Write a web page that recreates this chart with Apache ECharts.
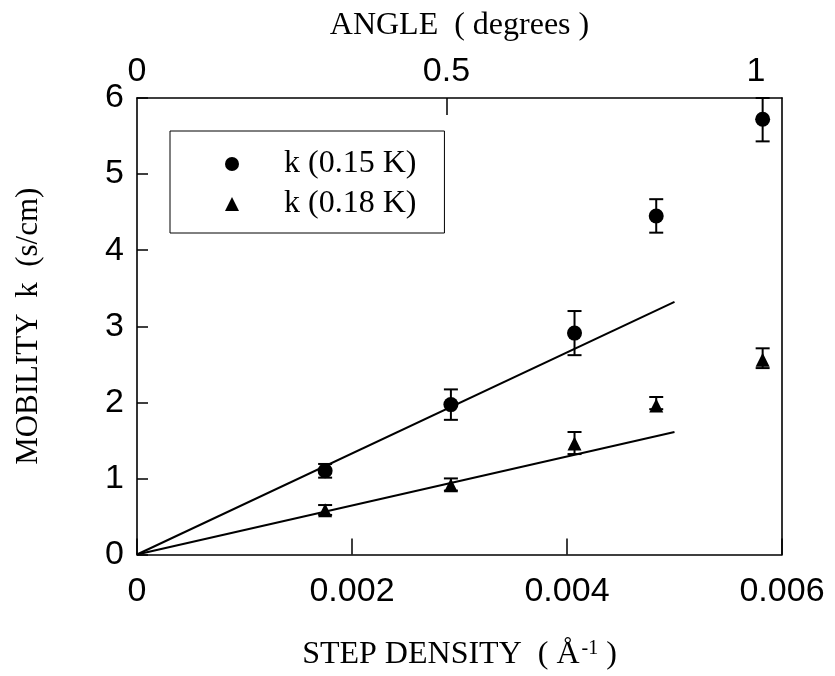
<!DOCTYPE html>
<html>
<head>
<meta charset="utf-8">
<script src="https://cdn.jsdelivr.net/npm/echarts@6/dist/echarts.min.js"></script>
<style>html,body{margin:0;padding:0;background:#fff;}#c{width:835px;height:676px;}</style>
</head>
<body>
<div id="c"></div>
<script>
// ---- data ----
const stepDensity = [0.00175, 0.00292, 0.00407, 0.00483, 0.00582];
const k015 = [1.10, 1.97, 2.91, 4.45, 5.72];
const k015Low = [1.01, 1.77, 2.62, 4.23, 5.43];
const k015High = [1.19, 2.17, 3.20, 4.67, 6.00];
const k018 = [0.58, 0.91, 1.46, 1.96, 2.56];
const k018Low = [0.52, 0.84, 1.32, 1.91, 2.45];
const k018High = [0.65, 1.00, 1.61, 2.07, 2.71];
const fitX = [0, 0.005];
const fit015 = [0, 3.32];
const fit018 = [0, 1.61];
const bottomTicks = [0, 0.002, 0.004, 0.006];
const leftTicks = [0, 1, 2, 3, 4, 5, 6];
const topTicks = [0, 0.5, 1];
const seriesNames = ['k (0.15 K)', 'k (0.18 K)'];

const SANS = "'Liberation Sans', Arial, sans-serif";
const SERIF = "'Liberation Serif', 'Times New Roman', serif";

function pts(xs, ys){ return xs.map((x,i)=>[x, ys[i]]); }
function errs(xs, lo, hi){ return xs.map((x,i)=>[x, lo[i], hi[i]]); }

function errorRender(params, api){
  const x = api.value(0), lo = api.value(1), hi = api.value(2);
  const a = api.coord([x, lo]), b = api.coord([x, hi]);
  const w = 7;
  const st = {stroke:'#000', lineWidth:2};
  return {type:'group', children:[
    {type:'line', shape:{x1:a[0], y1:a[1], x2:b[0], y2:b[1]}, style:st},
    {type:'line', shape:{x1:a[0]-w, y1:a[1], x2:a[0]+w, y2:a[1]}, style:st},
    {type:'line', shape:{x1:b[0]-w, y1:b[1], x2:b[0]+w, y2:b[1]}, style:st}
  ]};
}

const chart = echarts.init(document.getElementById('c'), null, {renderer:'canvas'});
chart.setOption({
  backgroundColor:'#fff',
  animation:false,
  grid:{left:137, right:53, top:98, bottom:118.5},
  legend:{
    data:[{name:seriesNames[0], icon:'circle'},{name:seriesNames[1], icon:'triangle'}],
    orient:'vertical', left:170, top:131,
    padding:[17, 28, 13, 55],
    itemGap:8, itemWidth:14, itemHeight:14,
    borderColor:'#000', borderWidth:1,
    textStyle:{fontFamily:SERIF, fontSize:32, color:'#000', padding:[0,0,0,40]}
  },
  xAxis:[{
    type:'value', position:'bottom', min:0, max:0.006, interval:0.002,
    name:'STEP DENSITY  ( Å{s|-1} )', nameLocation:'middle', nameGap:84,
    nameTextStyle:{fontFamily:SERIF, fontSize:32, color:'#000',
      rich:{s:{fontFamily:SERIF, fontSize:20, verticalAlign:'top', padding:[0,0,13,2], color:'#000'}}},
    axisLine:{onZero:false, lineStyle:{color:'#000', width:1.6}},
    axisTick:{inside:true, length:16, lineStyle:{color:'#000', width:1.5}},
    axisLabel:{fontFamily:SANS, fontSize:34, color:'#000', margin:20,
      formatter:v=>{const t=bottomTicks.find(b=>Math.abs(b-v)<1e-9); return t===undefined?'':String(t);}},
    splitLine:{show:false}
  },{
    type:'value', position:'top', min:0, max:1.042,
    name:'ANGLE  ( degrees )', nameLocation:'middle', nameGap:56,
    nameTextStyle:{fontFamily:SERIF, fontSize:32, color:'#000'},
    axisLine:{onZero:false, lineStyle:{color:'#000', width:1.6}},
    axisTick:{inside:true, length:17, customValues:[0.5], lineStyle:{color:'#000', width:1.5}},
    axisLabel:{fontFamily:SANS, fontSize:34, color:'#000', margin:9, customValues:topTicks,
      formatter:v=>String(v)},
    splitLine:{show:false}
  }],
  yAxis:[{
    type:'value', position:'left', min:0, max:6, interval:1,
    name:'MOBILITY  k  (s/cm)', nameLocation:'middle', nameGap:93, nameRotate:90,
    nameTextStyle:{fontFamily:SERIF, fontSize:31, color:'#000'},
    axisLine:{onZero:false, lineStyle:{color:'#000', width:1.6}},
    axisTick:{inside:true, length:11, lineStyle:{color:'#000', width:1.5}},
    axisLabel:{fontFamily:SANS, fontSize:34, color:'#000', margin:13,
      formatter:v=>{const t=leftTicks.find(b=>Math.abs(b-v)<1e-9); return t===undefined?'':String(t);}},
    splitLine:{show:false}
  },{
    type:'value', position:'right', min:0, max:6,
    axisLine:{show:true, onZero:false, lineStyle:{color:'#000', width:1.6}},
    axisTick:{show:false}, axisLabel:{show:false}, splitLine:{show:false}
  }],
  series:[
    {name:'fit015', type:'line', data:pts(fitX, fit015), showSymbol:false, symbol:'none',
      lineStyle:{color:'#000', width:2}, silent:true},
    {name:'fit018', type:'line', data:pts(fitX, fit018), showSymbol:false, symbol:'none',
      lineStyle:{color:'#000', width:2}, silent:true},
    {name:'err015', type:'custom', renderItem:errorRender, data:errs(stepDensity, k015Low, k015High), z:3},
    {name:'err018', type:'custom', renderItem:errorRender, data:errs(stepDensity, k018Low, k018High), z:3},
    {name:seriesNames[0], type:'scatter', symbol:'circle', symbolSize:15, data:pts(stepDensity, k015),
      itemStyle:{color:'#000', opacity:1}, z:4},
    {name:seriesNames[1], type:'scatter', symbol:'triangle', symbolSize:14, data:pts(stepDensity, k018),
      itemStyle:{color:'#000', opacity:1}, z:4}
  ]
});
</script>
</body>
</html>
